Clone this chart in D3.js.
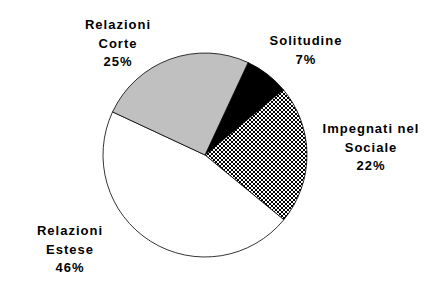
<!DOCTYPE html>
<html><head><meta charset="utf-8">
<script src="https://cdn.jsdelivr.net/npm/d3@7"></script>
<style>body{margin:0;background:#fff}svg{display:block}</style>
</head><body>
<svg id="c" width="430" height="298"></svg>
<script>
const labels = ["Solitudine", "Impegnati nel Sociale", "Relazioni Estese", "Relazioni Corte"];
const labelLines = [["Solitudine"], ["Impegnati nel", "Sociale"], ["Relazioni", "Estese"], ["Relazioni", "Corte"]];
const values = [7, 22, 46, 25];
const fills = ["#000000", "url(#checks)", "#ffffff", "#c0c0c0"];
const labelPos = [[306, 45], [371, 133], [70, 235], [118, 29]];

const svg = d3.select("#c");
const defs = svg.append("defs");
const pat = defs.append("pattern").attr("id", "checks").attr("patternUnits", "userSpaceOnUse")
  .attr("width", 4).attr("height", 4);
pat.append("rect").attr("width", 4).attr("height", 4).attr("fill", "#fff");
pat.append("rect").attr("width", 2).attr("height", 2).attr("fill", "#000");
pat.append("rect").attr("x", 2).attr("y", 2).attr("width", 2).attr("height", 2).attr("fill", "#000");

const cx = 205, cy = 155, r = 102;
const start = 25 * Math.PI / 180;
const pie = d3.pie().sort(null).value(d => d).startAngle(start).endAngle(start + 2 * Math.PI);
const arc = d3.arc().innerRadius(0).outerRadius(r);
const g = svg.append("g").attr("transform", `translate(${cx},${cy})`);
g.selectAll("path").data(pie(values)).join("path")
  .attr("d", arc).attr("fill", (d, i) => fills[i])
  .attr("stroke", "#000").attr("stroke-width", 0.8);

labelLines.forEach((lines, i) => {
  const [x, y] = labelPos[i];
  const t = svg.append("text").attr("text-anchor", "middle")
    .attr("font-family", "Liberation Sans, Arial, sans-serif").attr("font-weight", "bold")
    .attr("font-size", 13).attr("letter-spacing", 1).attr("fill", "#000");
  const all = lines.concat([values[i] + "%"]);
  all.forEach((s, k) => t.append("tspan").attr("x", x).attr("y", y + k * 18.5).text(s));
});
</script>
</body></html>
